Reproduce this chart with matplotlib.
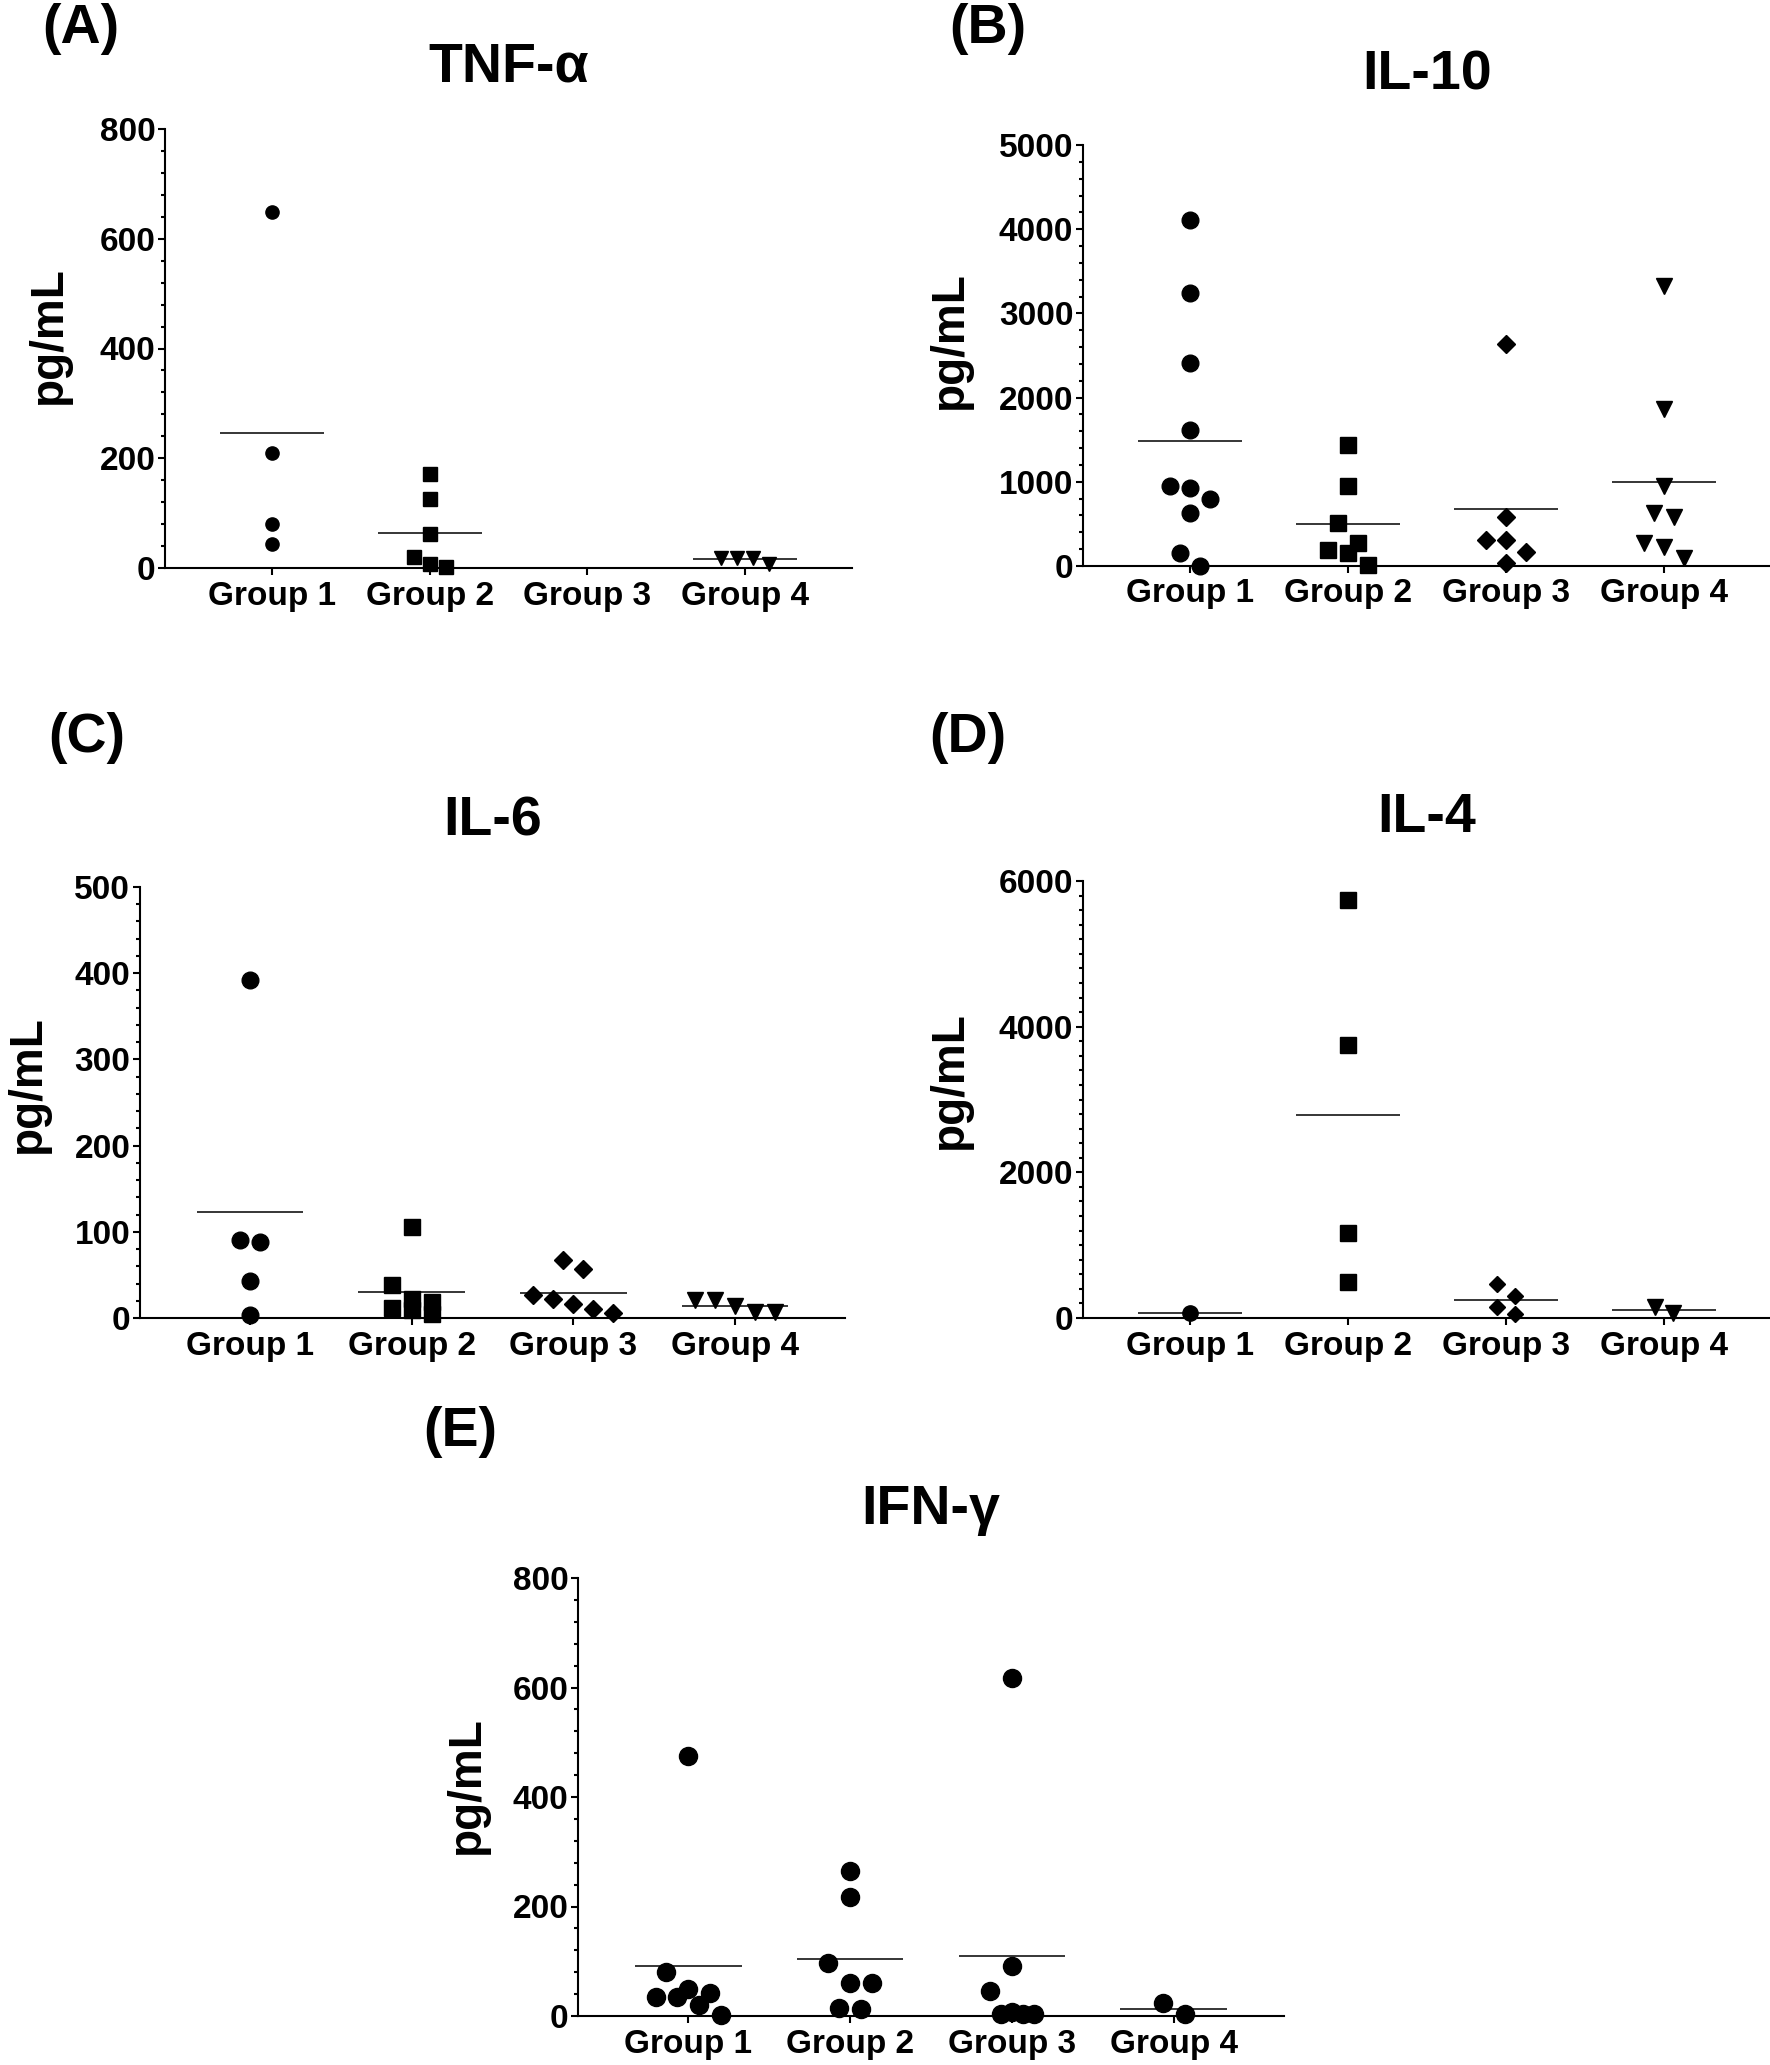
import matplotlib.pyplot as plt
import numpy as np

plt.rcParams["font.family"] = ["Liberation Sans", "DejaVu Sans"]
plt.rcParams["font.weight"] = "bold"

groups = ["Group 1", "Group 2", "Group 3", "Group 4"]

# (A) TNF-alpha, pg/mL
tnf_g1 = [648, 210, 81, 44]
tnf_g2 = [172, 125, 62, 20, 7, 1]
tnf_g3 = []
tnf_g4 = [19, 19, 19, 8]

# (B) IL-10
il10_g1 = [4115, 3240, 2413, 1610, 948, 924, 793, 633, 150, 5]
il10_g2 = [1441, 948, 513, 270, 189, 150, 15]
il10_g3 = [2640, 585, 310, 310, 164, 39]
il10_g4 = [3320, 1870, 950, 630, 580, 275, 230, 100]

# (C) IL-6
il6_g1 = [392, 90, 88, 43, 3]
il6_g2 = [105, 38, 22, 19, 12, 9, 5]
il6_g3 = [67, 57, 27, 22, 16, 11, 6]
il6_g4 = [21, 21, 14, 7, 7]

# (D) IL-4
il4_g1 = [70]
il4_g2 = [5743, 3746, 1167, 488]
il4_g3 = [465, 308, 151, 56]
il4_g4 = [150, 65]

# (E) IFN-gamma
ifn_g1 = [474, 80, 49, 42, 35, 35, 20, 2]
ifn_g2 = [264, 218, 97, 61, 61, 14, 13]
ifn_g3 = [617, 91, 46, 7, 4, 3, 3]
ifn_g4 = [23, 3]

W, H = 1770, 2065
fig = plt.figure(figsize=(W / 100, H / 100), dpi=100)


def row_offsets(vals, px_unit, px_group, diam):
    # GraphPad-like scatter: values closer than ~a marker go side by side in a row
    vals = np.asarray(vals, float)
    order = np.argsort(-vals, kind="stable")
    offs = np.zeros(len(vals))
    rows = []
    for i in order:
        if rows and (vals[rows[-1][0]] - vals[i]) * px_unit < 1.3 * diam:
            rows[-1].append(i)
        else:
            rows.append([i])
    for r in rows:
        n = len(r)
        for k, i in enumerate(r):
            offs[i] = (k - (n - 1) / 2) * 1.2 * diam / px_group
    return offs


def panel(box, data, markers, ms, ymax, major, minor, title, title_y, letter, letter_xy, ylab_xy):
    left, top, width, bottom = box
    ax = fig.add_axes([left / W, 1 - bottom / H, width / W, (bottom - top) / H])
    px_unit = (bottom - top) / ymax
    px_group = width / 4.36
    diam = ms * 100 / 72
    for g, vals in enumerate(data):
        if len(vals) == 0:
            continue
        x = g + 1 + row_offsets(vals, px_unit, px_group, diam)
        size = ms * 0.78 if markers[g] == "D" else ms
        ax.plot(x, vals, linestyle="none", marker=markers[g], ms=size,
                color="black", clip_on=False, zorder=3)
        ax.hlines(np.mean(vals), g + 1 - 0.33, g + 1 + 0.33, color="black", lw=1.1, zorder=2)
    ax.set_xlim(0.32, 4.68)
    ax.set_ylim(0, ymax)
    ax.set_xticks([1, 2, 3, 4])
    ax.set_xticklabels(groups)
    ax.set_yticks(np.arange(0, ymax + 1, major))
    ax.set_yticks(np.arange(0, ymax + 1, minor), minor=True)
    for s in ["top", "right"]:
        ax.spines[s].set_visible(False)
    for s in ["left", "bottom"]:
        ax.spines[s].set_linewidth(1.5)
    ax.tick_params(axis="both", which="major", length=5, width=1.5, labelsize=24)
    ax.tick_params(axis="y", which="minor", length=3.2, width=1.5)
    ax.tick_params(axis="y", which="major", pad=2)
    ax.tick_params(axis="x", which="major", pad=4)
    cx = (left + width / 2) / W
    fig.text(cx, 1 - title_y / H, title, ha="center", va="baseline", fontsize=40)
    fig.text(letter_xy[0] / W, 1 - letter_xy[1] / H, letter, ha="center", va="baseline", fontsize=40)
    fig.text(ylab_xy[0] / W, 1 - ylab_xy[1] / H, "pg/mL", rotation=90, rotation_mode="anchor",
             ha="center", va="baseline", fontsize=33)
    return ax


panel((165, 129, 687, 568), [tnf_g1, tnf_g2, tnf_g3, tnf_g4], ["o", "s", "D", "v"], 9.5,
      800, 200, 40, "TNF-α", 82, "(A)", (81, 43), (61, 335))
panel((1083, 145, 688, 566), [il10_g1, il10_g2, il10_g3, il10_g4], ["o", "s", "D", "v"], 12,
      5000, 1000, 200, "IL-10", 89, "(B)", (988, 43), (962, 340))
panel((140, 887, 705, 1318), [il6_g1, il6_g2, il6_g3, il6_g4], ["o", "s", "D", "v"], 12,
      500, 100, 20, "IL-6", 836, "(C)", (87, 752), (40, 1084))
panel((1083, 881, 688, 1318), [il4_g1, il4_g2, il4_g3, il4_g4], ["o", "s", "D", "v"], 11,
      6000, 2000, 200, "IL-4", 832, "(D)", (968, 752), (962, 1080))
panel((578, 1578, 706, 2016), [ifn_g1, ifn_g2, ifn_g3, ifn_g4], ["o", "o", "o", "o"], 13,
      800, 200, 40, "IFN-γ", 1524, "(E)", (460, 1446), (479, 1785))

fig.savefig("out.png", dpi=100)
